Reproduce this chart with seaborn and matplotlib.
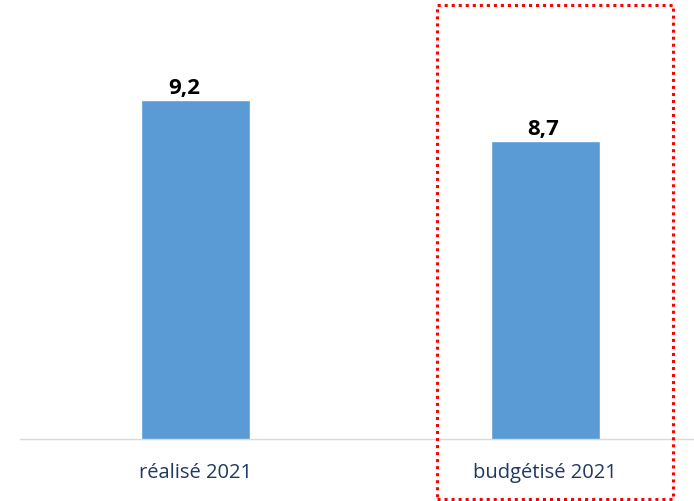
import matplotlib
matplotlib.use("Agg")
import matplotlib.pyplot as plt
import seaborn as sns
import pandas as pd
from matplotlib.patches import Rectangle

categories = ["réalisé 2021", "budgétisé 2021"]
values = [9.2, 8.7]
value_labels = ["9,2", "8,7"]

df = pd.DataFrame({"cat": categories, "val": values})

sns.set_theme(style="white")
plt.rcParams["font.family"] = ["Open Sans", "DejaVu Sans"]

W, H = 694, 502
fig = plt.figure(figsize=(W / 100, H / 100), dpi=100)
ax = fig.add_axes([20 / W, (H - 440) / H, 674 / W, 434 / H])

sns.barplot(data=df, x="cat", y="val", color="#5B9BD5", saturation=1,
            width=0.311, ax=ax)

ax.set_xlim(-0.501, 1.425)
ax.set_ylim(5.07, 5.07 + 434 / 82)
for s in ["top", "right", "left"]:
    ax.spines[s].set_visible(False)
ax.spines["bottom"].set_color("#D9D9D9")
ax.spines["bottom"].set_linewidth(1.0)
ax.set_yticks([])
ax.set_xlabel("")
ax.set_ylabel("")
ax.tick_params(axis="x", length=0, pad=16.5, labelsize=14.5, labelcolor="#1F3864")

offsets_px = [-11, -2]
for i, (v, lab) in enumerate(zip(values, value_labels)):
    ax.annotate(lab, xy=(i, v), xytext=(offsets_px[i] * 0.72, 5), textcoords="offset points",
                ha="center", va="baseline", fontsize=16, fontweight="bold", color="black")

rect = Rectangle((437 / W, (H - 500) / H), (673 - 437) / W, (500 - 6) / H,
                 transform=fig.transFigure, fill=False, edgecolor="#FF0000",
                 linewidth=2.2, linestyle=(0, (1, 1.3)), clip_on=False)
fig.patches.append(rect)

fig.savefig("out.png", dpi=100, facecolor="white")
